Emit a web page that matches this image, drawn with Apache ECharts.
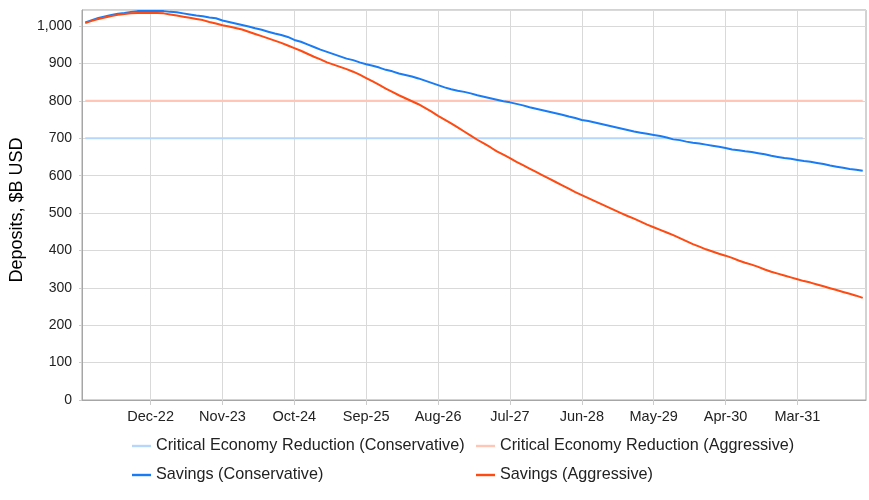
<!DOCTYPE html>
<html>
<head>
<meta charset="utf-8">
<script src="https://cdn.jsdelivr.net/npm/echarts@6/dist/echarts.min.js"></script>
<style>
html,body{margin:0;padding:0;background:#fff;}
#chart{width:869px;height:500px;}
</style>
</head>
<body>
<div id="chart"></div>
<script>
// Monthly categories Feb-22 .. Jan-32
var monthNames = ['Jan','Feb','Mar','Apr','May','Jun','Jul','Aug','Sep','Oct','Nov','Dec'];
var startYear = 22, startMonth = 1, monthCount = 120;
var categories = [];
for (var k = 0; k < monthCount; k++) {
  var m = (startMonth + k) % 12;
  var y = startYear + Math.floor((startMonth + k) / 12);
  categories.push(monthNames[m] + '-' + y);
}

var seriesNames = [
  'Critical Economy Reduction (Conservative)',
  'Critical Economy Reduction (Aggressive)',
  'Savings (Conservative)',
  'Savings (Aggressive)'
];

var criticalConservative = 700;
var criticalAggressive = 800;

var savingsConservative = [
  1010,1016,1022,1026,1030,1033,1035,1038,1040,1040,
  1040,1040,1040,1038,1037,1034,1031,1028,1026,1023,
  1021,1015,1011,1007,1003,999,994,990,985,980,
  976,971,963,958,951,944,937,931,925,919,
  913,909,903,898,894,889,883,879,873,869,
  865,860,854,848,842,836,831,827,824,820,
  815,811,807,803,799,796,792,788,783,779,
  775,771,767,763,758,754,749,746,742,738,
  734,730,726,722,718,715,712,709,706,702,
  697,695,691,688,686,683,680,677,674,670,
  668,665,663,660,657,653,650,647,645,642,
  639,637,634,631,627,624,621,618,616,613
];

var savingsAggressive = [
  1008,1014,1019,1023,1027,1030,1032,1034,1035,1035,
  1035,1035,1034,1031,1028,1025,1022,1019,1016,1011,
  1007,1002,999,995,991,985,979,973,967,961,
  955,948,941,934,926,918,911,903,897,891,
  885,878,870,861,852,843,833,824,815,807,
  799,791,781,771,760,750,740,729,718,707,
  696,686,676,665,656,647,637,628,619,610,
  601,592,583,574,565,556,548,540,532,524,
  516,508,500,492,485,477,469,462,455,448,
  441,433,425,417,410,403,397,391,386,380,
  373,367,362,356,349,343,338,333,328,323,
  318,314,309,304,299,294,289,284,279,273
];

var yTitle = 'Deposits, $B USD';
var yMin = 0, yMax = 1043, yInterval = 100;
var labelStart = 10, labelStep = 11;

var colors = ['#b7d6fb', '#ffc6b6', '#1a7cf5', '#ff4a12'];

function showIdx(i) { return i >= labelStart && (i - labelStart) % labelStep === 0; }

var chart = echarts.init(document.getElementById('chart'), null, {renderer: 'canvas'});

var lineSeries = [
  {name: seriesNames[0], data: categories.map(function(){ return criticalConservative; }), color: colors[0]},
  {name: seriesNames[1], data: categories.map(function(){ return criticalAggressive; }), color: colors[1]},
  {name: seriesNames[2], data: savingsConservative, color: colors[2]},
  {name: seriesNames[3], data: savingsAggressive, color: colors[3]}
].map(function(s){
  return {
    name: s.name, type: 'line', data: s.data, symbol: 'none', showSymbol: false,
    smooth: false, animation: false,
    itemStyle: {color: s.color},
    lineStyle: {color: s.color, width: 2}
  };
});

var legendText = {fontFamily: 'Liberation Sans, Arial, sans-serif', fontSize: 16.2, color: '#222'};
var lineIcon = 'path://M0,0 L19,0 L19,2.4 L0,2.4 Z';

chart.setOption({
  backgroundColor: '#ffffff',
  animation: false,
  grid: {left: 80, right: 3, top: 10, bottom: 100, show: true, borderColor: '#a6a6a6', borderWidth: 1, backgroundColor: 'transparent'},
  legend: [
    {data: [seriesNames[0], seriesNames[2]], orient: 'vertical', left: 132, top: 438,
     icon: lineIcon, itemWidth: 19, itemHeight: 14, itemGap: 13, textStyle: legendText, padding: 0, selectedMode: false},
    {data: [seriesNames[1], seriesNames[3]], orient: 'vertical', left: 476, top: 438,
     icon: lineIcon, itemWidth: 19, itemHeight: 14, itemGap: 13, textStyle: legendText, padding: 0, selectedMode: false}
  ],
  xAxis: {
    type: 'category', data: categories, boundaryGap: true,
    axisLine: {show: true, lineStyle: {color: '#a6a6a6', width: 1}},
    axisTick: {show: true, alignWithLabel: true, interval: function(i){ return showIdx(i); }, length: 5, lineStyle: {color: '#cccccc'}},
    axisLabel: {interval: function(i){ return showIdx(i); }, margin: 9, fontFamily: 'Liberation Sans, Arial, sans-serif', fontSize: 14.5, color: '#222'},
    splitLine: {show: true, alignWithLabel: true, interval: function(i){ return showIdx(i); }, lineStyle: {color: '#d9d9d9', width: 1}}
  },
  yAxis: {
    type: 'value', min: yMin, max: yMax, interval: yInterval,
    name: yTitle, nameLocation: 'middle', nameRotate: 90, nameGap: 56,
    nameTextStyle: {fontFamily: 'Liberation Sans, Arial, sans-serif', fontSize: 18, color: '#000', padding: [0, 10, 0, 0]},
    axisLine: {show: true, lineStyle: {color: '#a6a6a6', width: 1}},
    axisTick: {show: true, length: 3, lineStyle: {color: '#cccccc'}},
    axisLabel: {margin: 10, showMaxLabel: false, fontFamily: 'Liberation Sans, Arial, sans-serif', fontSize: 14, color: '#222'},
    splitLine: {show: true, lineStyle: {color: '#d9d9d9', width: 1}}
  },
  series: lineSeries
});
</script>
</body>
</html>
